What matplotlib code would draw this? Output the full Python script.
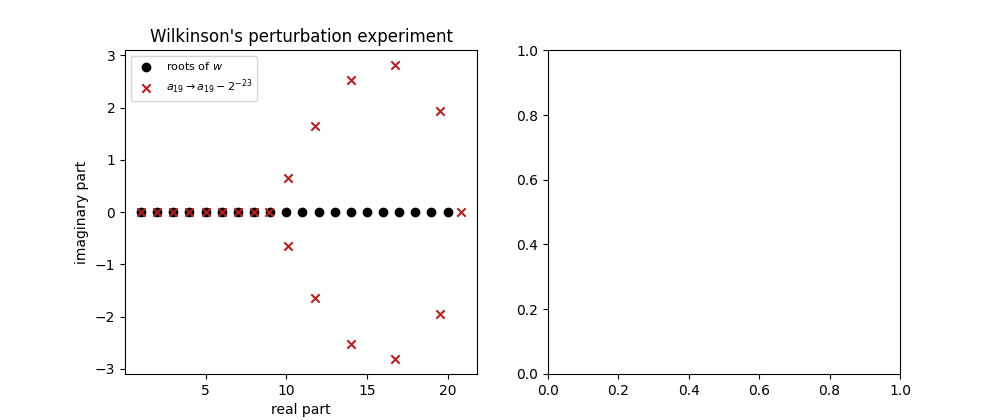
import numpy as np
import matplotlib
matplotlib.use("Agg")
import matplotlib.pyplot as plt

# roots of Wilkinson's polynomial w(x) = (x-1)(x-2)...(x-20)
roots_re = [1, 2, 3, 4, 5, 6, 7, 8, 9, 10, 11, 12, 13, 14, 15, 16, 17, 18, 19, 20]
roots_im = [0] * 20

# roots after a_19 -> a_19 - 2^-23
pert_re = [1.0, 2.0, 3.0, 4.0, 4.99999, 6.00001, 6.9997, 8.00727, 8.91725, 20.84691,
           10.09527, 10.09527, 11.79363, 11.79363, 13.99236, 13.99236,
           16.73074, 16.73074, 19.50244, 19.50244]
pert_im = [0, 0, 0, 0, 0, 0, 0, 0, 0, 0,
           0.6435, -0.6435, 1.65233, -1.65233, 2.51883, -2.51883,
           2.81262, -2.81262, 1.94033, -1.94033]

fig, (ax1, ax2) = plt.subplots(1, 2, figsize=(10, 4.2), dpi=100)

ax1.scatter(roots_re, roots_im, color="black", label="roots of $w$")
ax1.scatter(pert_re, pert_im, color="firebrick", marker="x",
            label=r"$a_{19}\rightarrow a_{19}-2^{-23}$")
ax1.set_xlabel("real part")
ax1.set_ylabel("imaginary part")
ax1.set_title("Wilkinson's perturbation experiment")
ax1.legend(fontsize=8, loc="upper left")

fig.savefig("out.png")
